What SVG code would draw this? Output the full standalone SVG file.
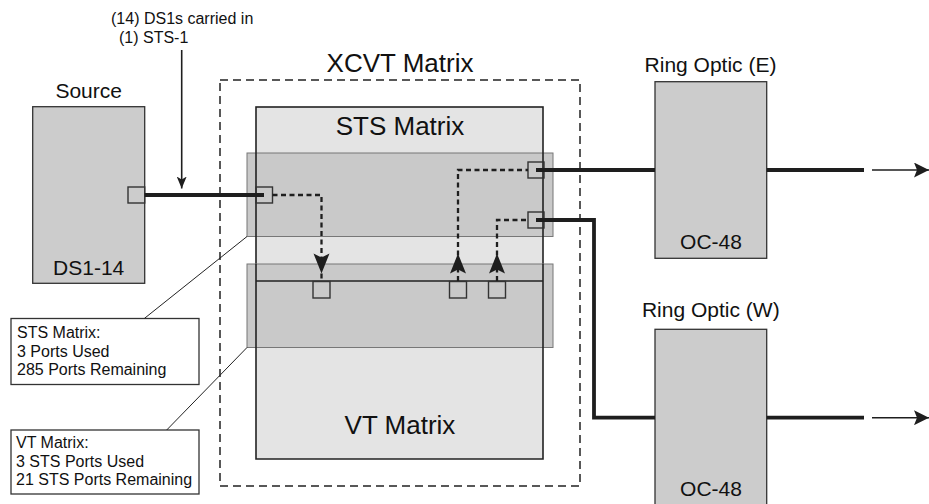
<svg xmlns="http://www.w3.org/2000/svg" width="929" height="504" viewBox="0 0 929 504">
<style>
text{font-family:"Liberation Sans",Arial,Helvetica,sans-serif;fill:#111}
.t21{font-size:21px}
.t26{font-size:26px}
.t16{font-size:16px}
.mid{text-anchor:middle}
.box{fill:#cccccc;stroke:#333;stroke-width:1.3}
.mtx{fill:#e4e4e4;stroke:none}
.mtxo{fill:none;stroke:#222;stroke-width:1.6}
.band{fill:#c9c9c9;stroke:#777;stroke-width:1}
.port{fill:none;stroke:#333;stroke-width:1.4}
.thick{fill:none;stroke:#1e1e1e;stroke-width:3.8}
.dash{fill:none;stroke:#1e1e1e;stroke-width:2.3;stroke-dasharray:5 3.5}
.thin{fill:none;stroke:#1e1e1e;stroke-width:1.6}
.lead{fill:none;stroke:#222;stroke-width:1}
.call{fill:#fff;stroke:#333;stroke-width:1.3}
.frame{fill:none;stroke:#222;stroke-width:1.5;stroke-dasharray:8 5}
.ah{fill:#1e1e1e}
</style>
<defs>
<path id="ahDown" d="M0,0 L-8,-20 L0,-16 L8,-20 Z"/>
<path id="ahUp" d="M0,0 L-8,20 L0,16 L8,20 Z"/>
<marker id="arrR" viewBox="0 0 15 15" refX="15" refY="7.5" markerWidth="15" markerHeight="15" markerUnits="userSpaceOnUse" orient="auto">
<path d="M0,0 L15,7.5 L0,15 L3,7.5 Z" fill="#1e1e1e"/>
</marker>
<marker id="arrS" viewBox="0 0 12 10" refX="12" refY="5" markerWidth="12" markerHeight="10" markerUnits="userSpaceOnUse" orient="auto">
<path d="M0,0 L12,5 L0,10 L3,5 Z" fill="#1e1e1e"/>
</marker>
</defs>

<g id="annotation">
<text class="t16" x="111" y="24">(14) DS1s carried in</text>
<text class="t16" x="119" y="43">(1) STS-1</text>
</g>

<g id="source">
<text class="t21 mid" x="88.7" y="98">Source</text>
<rect class="box" x="32.7" y="106.7" width="112" height="176.6"/>
<text class="t21 mid" x="88.7" y="275">DS1-14</text>
<rect class="port" x="128" y="187" width="16.7" height="16"/>
</g>

<g id="xcvt-matrix">
<rect class="frame" x="220" y="80" width="360" height="406"/>
<text class="t26 mid" x="400" y="72">XCVT Matrix</text>
</g>

<g id="sts-matrix">
<rect class="mtx" x="256" y="107" width="287" height="174"/>
<rect class="band" x="247" y="153" width="306" height="83.5"/>
<rect class="mtxo" x="256" y="107" width="287" height="174"/>
<text class="t26 mid" x="400" y="135">STS Matrix</text>
<rect class="port" x="256" y="187" width="16.5" height="16"/>
<rect class="port" x="528" y="162" width="16" height="16"/>
<rect class="port" x="528" y="212" width="16" height="16"/>
</g>

<g id="vt-matrix">
<rect class="mtx" x="256" y="281" width="287" height="178"/>
<rect class="band" x="247" y="264" width="306" height="83.5"/>
<path class="mtxo" d="M256,264 V459 H543 V264 M256,281 H543"/>
<text class="t26 mid" x="400" y="434">VT Matrix</text>
<rect class="port" x="313" y="281.5" width="17" height="16.5"/>
<rect class="port" x="449.5" y="281.5" width="17" height="16.5"/>
<rect class="port" x="488.5" y="281.5" width="17" height="16.5"/>
</g>

<g id="ring-optic-e">
<text class="t21 mid" x="710.5" y="72">Ring Optic (E)</text>
<rect class="box" x="655" y="81.7" width="111.7" height="176.6"/>
<text class="t21 mid" x="711" y="249">OC-48</text>
</g>

<g id="ring-optic-w">
<text class="t21 mid" x="710.8" y="317">Ring Optic (W)</text>
<rect class="box" x="655" y="329.3" width="111.7" height="190"/>
<text class="t21 mid" x="711" y="496">OC-48</text>
</g>

<g id="callout-sts">
<rect class="call" x="11" y="318.5" width="188" height="66"/>
<text class="t16" x="17" y="338">STS Matrix:</text>
<text class="t16" x="17" y="356.5">3 Ports Used</text>
<text class="t16" x="17" y="375">285 Ports Remaining</text>
</g>

<g id="callout-vt">
<rect class="call" x="11" y="430" width="188" height="64"/>
<text class="t16" x="16" y="448">VT Matrix:</text>
<text class="t16" x="16" y="466.5">3 STS Ports Used</text>
<text class="t16" x="16" y="485">21 STS Ports Remaining</text>
</g>

<g id="connectors">
<line class="thin" x1="181.7" y1="50" x2="181.7" y2="188.5" marker-end="url(#arrS)"/>
<line class="thick" x1="144.7" y1="195" x2="264" y2="195"/>
<line class="thick" x1="536" y1="170" x2="655" y2="170"/>
<path class="thick" d="M536,220 H594 V417.7 H655"/>
<line class="thick" x1="766.7" y1="170" x2="864" y2="170"/>
<line class="thick" x1="766.7" y1="417.7" x2="864" y2="417.7"/>
<line class="thin" x1="872" y1="170" x2="929" y2="170" marker-end="url(#arrR)"/>
<line class="thin" x1="872" y1="417.7" x2="929" y2="417.7" marker-end="url(#arrR)"/>
<path class="dash" d="M272.5,195 H321.5 V281"/>
<path class="dash" d="M458,281 V170 H528"/>
<path class="dash" d="M497,281 V220 H528"/>
<use href="#ahDown" class="ah" x="321.5" y="273.5"/>
<use href="#ahUp" class="ah" x="458" y="253.5"/>
<use href="#ahUp" class="ah" x="497" y="253.5"/>
<line class="lead" x1="144.3" y1="318.5" x2="247" y2="236.5"/>
<line class="lead" x1="166.7" y1="430" x2="247" y2="347.5"/>
</g>
</svg>
